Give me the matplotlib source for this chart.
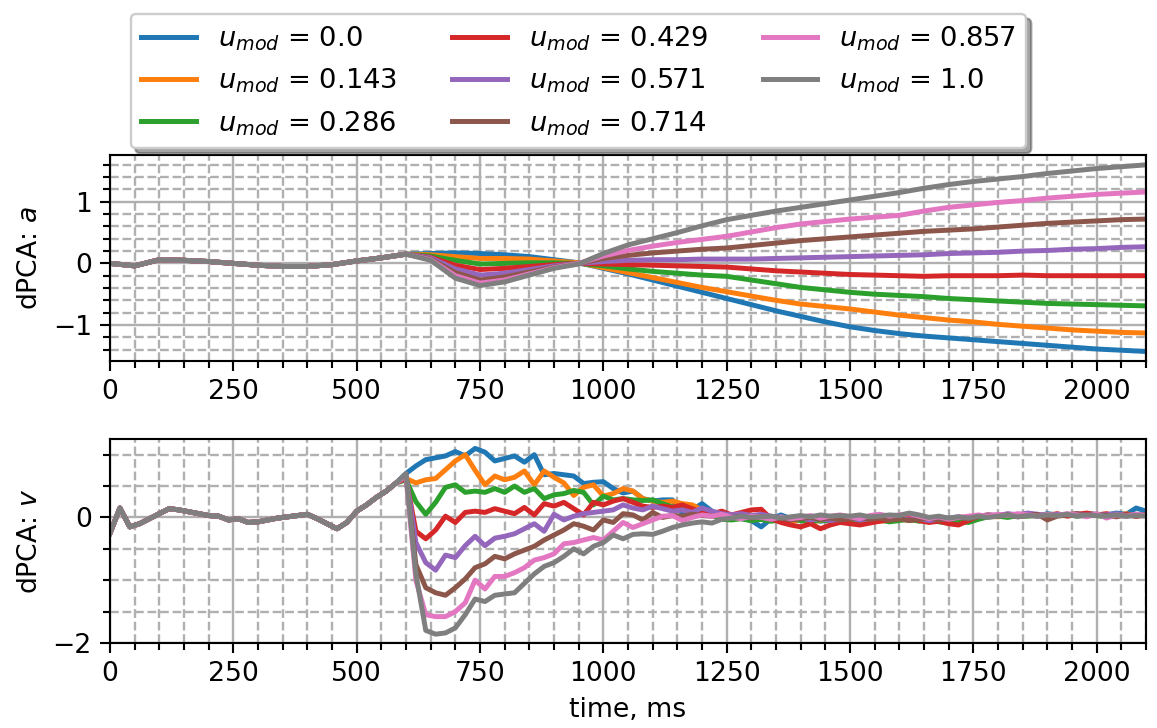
import numpy as np
import matplotlib
matplotlib.use("Agg")
import matplotlib.pyplot as plt
from matplotlib.ticker import MultipleLocator

# modulation levels (legend)
u_mod = [0.0, 0.143, 0.286, 0.429, 0.571, 0.714, 0.857, 1.0]

# ---- dPCA: a  (smooth component), 50 ms grid ----
t_a_pre = np.arange(0, 601, 50)
a_pre = [0.0, -0.04, 0.06, 0.05, 0.03, 0.0, -0.03, -0.05, -0.05, -0.02, 0.04, 0.09, 0.15]
t_a_post = np.arange(650, 2101, 50)
a_post = [
    [0.16, 0.17, 0.16, 0.14, 0.11, 0.06, 0.01, -0.08, -0.17, -0.27,
     -0.37, -0.47, -0.57, -0.67, -0.77, -0.86, -0.95, -1.03, -1.09, -1.14,
     -1.18, -1.21, -1.24, -1.27, -1.30, -1.33, -1.36, -1.39, -1.41, -1.43],
    [0.14, 0.11, 0.08, 0.08, 0.07, 0.04, 0.01, -0.07, -0.15, -0.23,
     -0.31, -0.39, -0.46, -0.53, -0.60, -0.66, -0.70, -0.74, -0.79, -0.84,
     -0.88, -0.92, -0.95, -0.99, -1.02, -1.05, -1.08, -1.10, -1.12, -1.13],
    [0.12, 0.05, -0.01, 0.0, 0.01, 0.01, 0.0, -0.04, -0.09, -0.13,
     -0.16, -0.19, -0.21, -0.27, -0.33, -0.39, -0.43, -0.47, -0.50, -0.52,
     -0.54, -0.57, -0.59, -0.61, -0.63, -0.65, -0.66, -0.67, -0.68, -0.69],
    [0.10, -0.03, -0.10, -0.08, -0.05, -0.02, 0.0, -0.01, -0.02, -0.03,
     -0.04, -0.05, -0.06, -0.09, -0.12, -0.14, -0.16, -0.18, -0.19, -0.20,
     -0.21, -0.20, -0.20, -0.20, -0.19, -0.20, -0.20, -0.20, -0.20, -0.20],
    [0.09, -0.09, -0.19, -0.16, -0.10, -0.04, 0.0, 0.03, 0.05, 0.06,
     0.06, 0.07, 0.07, 0.07, 0.08, 0.09, 0.10, 0.11, 0.12, 0.13,
     0.14, 0.16, 0.17, 0.18, 0.20, 0.21, 0.23, 0.24, 0.26, 0.27],
    [0.07, -0.15, -0.27, -0.22, -0.14, -0.06, 0.0, 0.08, 0.13, 0.17,
     0.20, 0.23, 0.25, 0.29, 0.33, 0.37, 0.40, 0.43, 0.46, 0.49,
     0.52, 0.54, 0.56, 0.59, 0.62, 0.65, 0.67, 0.69, 0.71, 0.72],
    [0.06, -0.20, -0.32, -0.27, -0.17, -0.07, 0.0, 0.12, 0.21, 0.28,
     0.34, 0.39, 0.44, 0.51, 0.58, 0.64, 0.68, 0.72, 0.75, 0.78,
     0.85, 0.91, 0.95, 0.99, 1.02, 1.06, 1.09, 1.12, 1.14, 1.16],
    [0.05, -0.24, -0.36, -0.30, -0.19, -0.08, -0.01, 0.16, 0.30, 0.40,
     0.50, 0.61, 0.71, 0.78, 0.85, 0.91, 0.97, 1.03, 1.09, 1.15,
     1.22, 1.28, 1.33, 1.37, 1.41, 1.46, 1.50, 1.54, 1.57, 1.60],
]

# ---- dPCA: v  (noisy component), 20 ms grid ----
t_v_pre = np.arange(0, 581, 20)
v_pre = [-0.25, 0.15, -0.15, -0.10, -0.02, 0.06, 0.14, 0.12, 0.09, 0.06,
         0.03, 0.02, -0.04, -0.02, -0.08, -0.07, -0.04, -0.01, 0.01, 0.03,
         0.05, -0.02, -0.10, -0.18, -0.08, 0.10, 0.20, 0.32, 0.42, 0.55]
t_v_post = np.arange(600, 2101, 20)
v_post = [
    [0.70, 0.82, 0.92, 0.95, 0.98, 1.05, 0.98, 1.10, 1.04, 0.90,
     0.94, 0.98, 0.88, 1.00, 0.68, 0.70, 0.68, 0.66, 0.54, 0.56,
     0.57, 0.46, 0.39, 0.42, 0.30, 0.26, 0.28, 0.28, 0.06, 0.12,
     0.22, 0.10, 0.02, 0.03, -0.02, -0.05, -0.15, -0.02, 0.04, -0.02,
     -0.05, -0.03, -0.06, -0.04, -0.08, -0.06, -0.03, -0.07, -0.04, -0.02,
     -0.03, 0.00, -0.04, -0.02, -0.05, -0.03, -0.06, -0.02, 0.02, 0.03,
     0.02, 0.04, 0.03, 0.05, 0.02, 0.06, 0.04, 0.05, 0.03, 0.06,
     0.05, 0.04, 0.07, 0.05, 0.15, 0.10],
    [0.62, 0.55, 0.60, 0.62, 0.76, 0.90, 1.00, 0.75, 0.52, 0.66,
     0.60, 0.64, 0.74, 0.52, 0.74, 0.64, 0.55, 0.35, 0.48, 0.52,
     0.34, 0.38, 0.46, 0.42, 0.30, 0.26, 0.24, 0.26, 0.22, 0.20,
     0.12, 0.06, 0.02, -0.02, 0.00, -0.04, -0.03, -0.05, -0.02, -0.06,
     -0.04, -0.07, -0.05, -0.03, -0.06, -0.08, -0.05, -0.03, -0.06, -0.04,
     -0.02, -0.05, -0.03, -0.06, -0.04, -0.02, -0.05, -0.03, 0.00, 0.02,
     0.01, 0.03, 0.02, 0.04, 0.03, 0.02, 0.05, 0.04, 0.06, 0.03,
     0.04, 0.05, 0.03, 0.06, 0.02, 0.04],
    [0.60, 0.25, 0.05, 0.24, 0.48, 0.52, 0.40, 0.42, 0.40, 0.46,
     0.40, 0.50, 0.40, 0.46, 0.30, 0.36, 0.38, 0.43, 0.40, 0.20,
     0.34, 0.28, 0.30, 0.28, 0.27, 0.28, 0.22, 0.17, 0.15, 0.12,
     0.08, 0.04, -0.03, -0.04, -0.02, -0.05, -0.03, -0.06, -0.04, -0.02,
     -0.05, -0.07, -0.04, -0.06, -0.03, -0.05, -0.08, -0.06, -0.04, -0.07,
     -0.05, -0.03, -0.06, -0.04, -0.07, -0.09, -0.06, -0.08, -0.03, 0.01,
     0.02, 0.00, 0.03, 0.02, 0.04, 0.01, 0.03, 0.05, 0.02, 0.04,
     0.03, 0.01, 0.04, 0.02, 0.05, 0.03],
    [0.62, -0.22, -0.34, -0.20, 0.02, -0.08, 0.08, 0.10, 0.08, 0.14,
     0.10, 0.06, 0.16, 0.04, 0.22, 0.18, 0.24, 0.14, 0.04, 0.24,
     0.20, 0.26, 0.30, 0.24, 0.18, 0.16, 0.18, 0.16, 0.20, 0.14,
     0.08, 0.06, 0.10, 0.04, 0.08, 0.12, 0.13, -0.02, -0.08, -0.12,
     -0.15, -0.10, -0.18, -0.12, -0.08, -0.10, -0.12, -0.09, -0.06, -0.04,
     -0.02, 0.00, -0.05, -0.08, -0.06, -0.10, -0.12, -0.05, 0.02, 0.04,
     0.03, 0.05, 0.02, 0.06, 0.04, 0.03, 0.06, 0.02, 0.05, 0.07,
     0.04, 0.06, 0.03, 0.05, 0.02, 0.04],
    [0.66, -0.40, -0.72, -0.84, -0.60, -0.64, -0.45, -0.30, -0.45, -0.33,
     -0.30, -0.26, -0.18, -0.10, -0.22, 0.05, -0.04, 0.02, 0.06, 0.08,
     0.10, 0.12, 0.20, 0.15, 0.12, 0.18, 0.14, 0.10, 0.12, 0.08,
     0.15, 0.10, 0.06, 0.04, 0.06, 0.03, 0.05, 0.02, 0.00, -0.03,
     -0.01, -0.04, -0.02, -0.05, -0.03, -0.01, -0.04, -0.02, 0.00, -0.03,
     -0.01, -0.04, -0.02, -0.05, -0.03, -0.01, 0.01, -0.02, 0.02, 0.04,
     0.03, 0.06, 0.04, 0.07, 0.05, 0.03, 0.05, 0.04, 0.06, 0.03,
     0.05, 0.04, 0.06, 0.03, 0.05, 0.04],
    [0.66, -0.75, -1.12, -1.20, -1.24, -1.12, -0.98, -0.80, -0.74, -0.62,
     -0.66, -0.58, -0.52, -0.46, -0.36, -0.28, -0.20, -0.10, -0.14, -0.20,
     -0.04, -0.08, 0.06, 0.04, -0.04, 0.08, 0.00, 0.03, 0.02, 0.05,
     0.03, 0.02, 0.04, 0.00, 0.02, -0.01, 0.01, -0.03, -0.01, -0.04,
     -0.02, 0.00, -0.03, -0.01, -0.04, -0.02, 0.00, -0.03, -0.01, -0.04,
     -0.02, -0.05, -0.03, -0.01, -0.04, -0.02, 0.00, -0.02, 0.01, 0.03,
     0.02, 0.04, 0.01, 0.03, 0.05, -0.04, 0.02, 0.04, 0.06, 0.02,
     0.05, 0.03, 0.01, 0.04, 0.02, 0.05],
    [0.66, -1.00, -1.55, -1.58, -1.58, -1.50, -1.36, -1.00, -1.14, -0.94,
     -0.94, -0.88, -0.80, -0.68, -0.64, -0.58, -0.42, -0.40, -0.36, -0.32,
     -0.36, -0.22, -0.08, -0.16, -0.10, -0.04, 0.02, 0.03, -0.05, 0.00,
     0.04, 0.02, 0.05, 0.00, -0.02, 0.02, 0.00, -0.03, 0.01, -0.02,
     0.00, 0.03, -0.01, 0.02, 0.04, 0.01, -0.02, 0.03, 0.05, 0.02,
     0.04, 0.06, 0.02, -0.02, 0.01, -0.03, 0.00, 0.02, 0.04, 0.02,
     0.05, 0.03, 0.06, 0.04, 0.02, 0.05, 0.03, 0.06, 0.04, 0.01,
     0.06, -0.01, 0.04, 0.02, 0.05, 0.03],
    [0.70, -0.90, -1.80, -1.86, -1.84, -1.76, -1.55, -1.30, -1.34, -1.24,
     -1.22, -1.20, -1.05, -0.90, -0.78, -0.72, -0.62, -0.50, -0.58, -0.46,
     -0.40, -0.28, -0.34, -0.27, -0.26, -0.27, -0.22, -0.16, -0.12, -0.09,
     -0.07, -0.09, -0.03, -0.01, 0.02, 0.00, 0.01, 0.02, -0.01, 0.01,
     0.03, 0.01, 0.04, 0.02, 0.03, 0.02, 0.04, 0.01, 0.02, 0.04,
     0.03, 0.07, 0.04, 0.00, 0.02, -0.01, 0.01, -0.01, 0.02, 0.00,
     0.02, 0.04, 0.01, 0.03, 0.02, 0.04, 0.03, 0.05, 0.02, 0.04,
     0.03, 0.02, 0.04, 0.02, 0.03, 0.02],
]

plt.rcParams['font.size'] = 11.3
plt.rcParams['mathtext.fontset'] = 'dejavusans'

DPI = 170
fig = plt.figure(figsize=(1157 / DPI, 728 / DPI), dpi=DPI)
ax_a = fig.add_axes([0.0951, 0.5041, 0.8954, 0.2830])
ax_v = fig.add_axes([0.0951, 0.1168, 0.8954, 0.2802])

t_a = np.concatenate([t_a_pre, t_a_post])
t_v = np.concatenate([t_v_pre, t_v_post])
for i, u in enumerate(u_mod):
    ax_a.plot(t_a, a_pre + a_post[i], color='C%d' % i, lw=2.1,
              label=r'$u_{mod}$ = ' + str(u))
    ax_v.plot(t_v, v_pre + v_post[i], color='C%d' % i, lw=2.1)

for ax in (ax_a, ax_v):
    ax.set_xlim(0, 2100)
    ax.xaxis.set_major_locator(MultipleLocator(250))
    ax.xaxis.set_minor_locator(MultipleLocator(50))
    ax.grid(which='major', linestyle='-', color='#b0b0b0', lw=1.0)
    ax.grid(which='minor', linestyle='--', color='#b0b0b0', lw=1.0)
    ax.tick_params(which='major', length=4.2, width=0.9)
    ax.tick_params(which='minor', length=2.8, width=0.9)
    for sp in ax.spines.values():
        sp.set_linewidth(0.9)
    ax.set_axisbelow(True)

ax_a.set_ylim(-1.585, 1.76)
ax_a.yaxis.set_major_locator(MultipleLocator(1))
ax_a.yaxis.set_minor_locator(MultipleLocator(0.2))
ax_a.set_ylabel('dPCA: $a$')

ax_v.set_ylim(-2.0, 1.25)
ax_v.yaxis.set_major_locator(MultipleLocator(2))
ax_v.yaxis.set_minor_locator(MultipleLocator(0.5))
ax_v.set_ylabel('dPCA: $v$')
ax_v.set_xlabel('time, ms')

handles, labels = ax_a.get_legend_handles_labels()
fig.legend(handles, labels, loc='upper center', bbox_to_anchor=(0.5, 1.0),
           ncol=3, shadow=True, fontsize=11.6)

fig.savefig('out.png', dpi=DPI)
